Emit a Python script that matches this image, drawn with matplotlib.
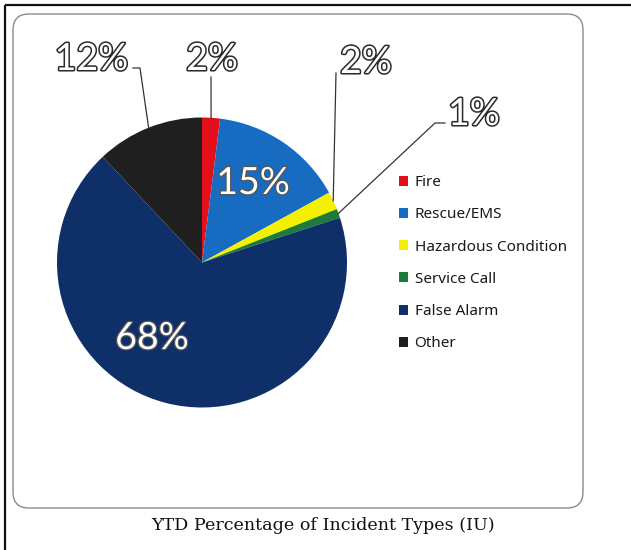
"""YTD percentage of incident types (IU) - pie chart with legend."""
import numpy as np
import matplotlib
matplotlib.use("Agg")
import matplotlib.pyplot as plt
from matplotlib.patches import FancyBboxPatch
import matplotlib.patheffects as pe

# ----- data -------------------------------------------------------------
CATEGORIES = ["Fire", "Rescue/EMS", "Hazardous Condition", "Service Call", "False Alarm", "Other"]
PERCENTS = [2, 15, 2, 1, 68, 12]
COLORS = ["#e3101c", "#176cc2", "#f4f000", "#1c7b38", "#0f2f69", "#1f1f1f"]
TITLE = "YTD Percentage of Incident Types (IU)"

W, H = 631, 550
CX, CY, R = 202, H - 262.5, 145

# label placement (image px, y measured from top): (x, y, ha, elbow points or None)
OUTSIDE = {
    0: dict(xy=(212, 70), ha="center", path=[(211, 77)]),
    2: dict(xy=(340, 73), ha="left", path=[(336, 73)]),
    3: dict(xy=(448, 125), ha="left", path=[(445, 123), (435, 123)]),
    5: dict(xy=(128, 70), ha="right", path=[(133, 68), (140, 68)]),
}
INSIDE = {1: (253, 183), 4: (152, 338)}


def main():
    fig = plt.figure(figsize=(W / 100, H / 100), dpi=100)
    ax = fig.add_axes([0, 0, 1, 1])

    wedges, _ = ax.pie(PERCENTS, colors=COLORS, startangle=90, counterclock=False,
                       center=(CX, CY), radius=R, wedgeprops=dict(linewidth=0))
    ax.set_xlim(0, W)
    ax.set_ylim(0, H)
    ax.set_aspect("equal")
    ax.axis("off")

    big = dict(family=["Lato", "DejaVu Sans"], fontsize=27, color="white")
    outline = [pe.Stroke(linewidth=2.2, foreground="#2a2a2a"), pe.Normal()]
    inner_outline = [pe.Stroke(linewidth=1.8, foreground="#555555"), pe.Normal()]

    for i, spec in OUTSIDE.items():
        w = wedges[i]
        mid = np.deg2rad((w.theta1 + w.theta2) / 2)
        ex, ey = CX + R * np.cos(mid), CY + R * np.sin(mid)
        pts = [(x, H - y) for x, y in spec["path"]] + [(ex, ey)]
        xs, ys = zip(*pts)
        ax.plot(xs, ys, color="#333333", lw=0.9)
        x, y = spec["xy"]
        ax.text(x, H - y, f"{PERCENTS[i]}%", ha=spec["ha"], va="baseline",
                path_effects=outline, **big)

    for i, (x, y) in INSIDE.items():
        ax.text(x, H - y, f"{PERCENTS[i]}%", ha="center", va="center",
                path_effects=inner_outline, **big)

    # frame: rounded inner box + heavy top/left rules
    box = FancyBboxPatch((13, H - 508), 583 - 13, 508 - 14,
                         boxstyle="round,pad=0,rounding_size=16",
                         fill=False, ec="#8a8a8a", lw=1.0)
    ax.add_patch(box)
    ax.plot([5, W], [H - 5, H - 5], color="#111111", lw=1.6, solid_capstyle="butt")
    ax.plot([5, 5], [H - 5, 0], color="#111111", lw=1.6, solid_capstyle="butt")

    leg = ax.legend(wedges, CATEGORIES, loc="upper left",
                    bbox_to_anchor=(399 / W, 1 - 175 / H), bbox_transform=fig.transFigure,
                    frameon=False, prop=dict(family=["Noto Sans", "DejaVu Sans"], size=11),
                    handlelength=0.62, handleheight=0.62, handletextpad=0.4,
                    labelspacing=1.13, borderpad=0, borderaxespad=0)
    for t in leg.get_texts():
        t.set_color("#1a1a1a")

    fig.text(323 / W, 1 - 525 / H, TITLE, ha="center", va="center",
             family=["DejaVu Serif"], fontsize=12.6, color="#111111")

    fig.savefig("out.png", dpi=100)


if __name__ == "__main__":
    main()
